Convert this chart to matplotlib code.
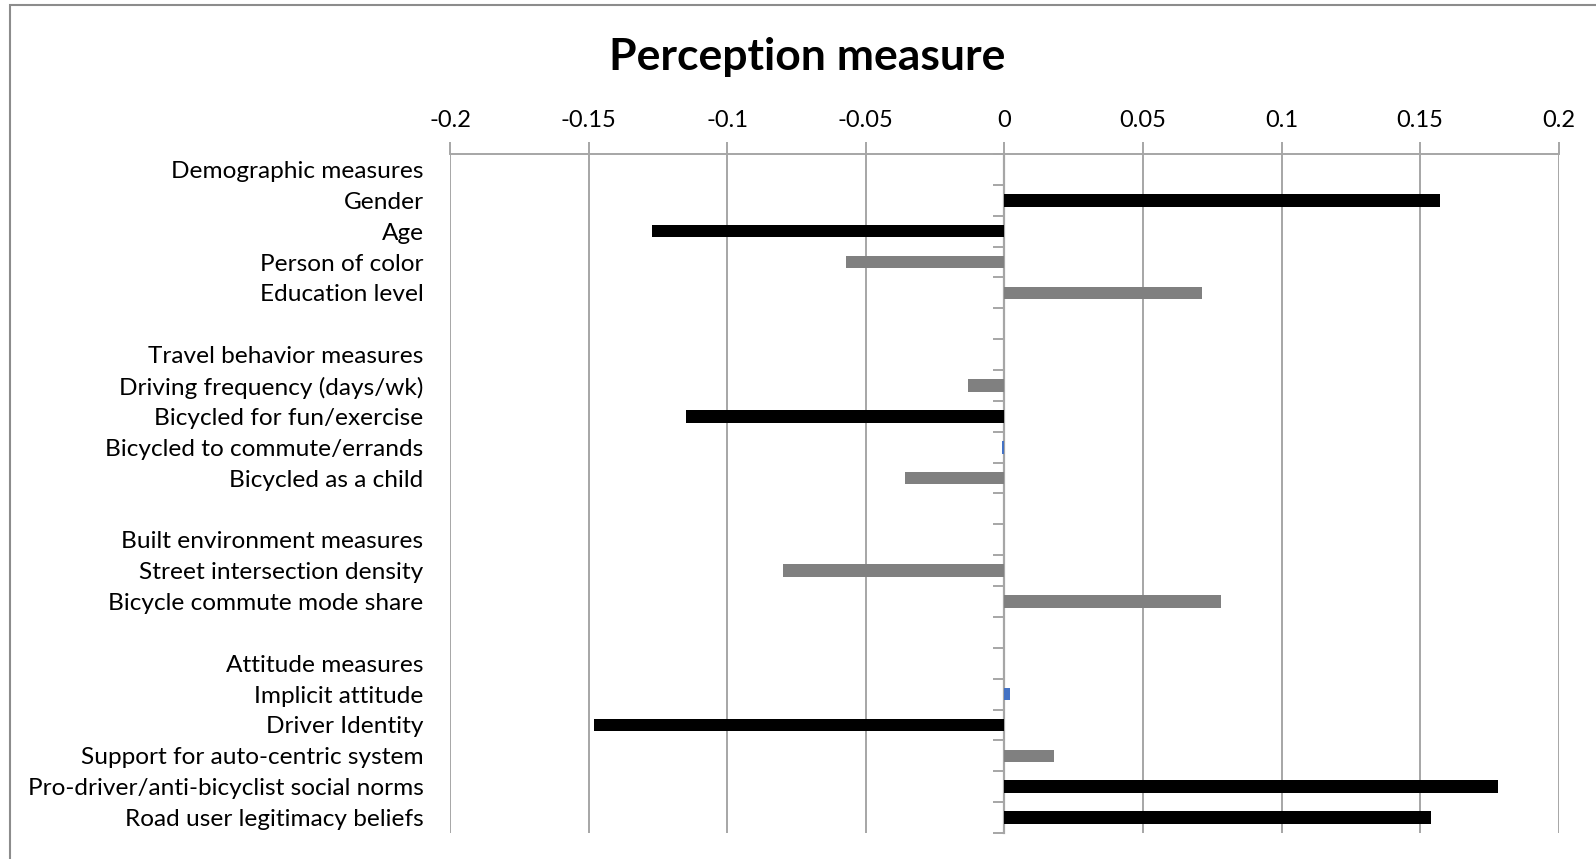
import matplotlib
matplotlib.use("Agg")
import matplotlib.pyplot as plt
from matplotlib.patches import Rectangle

categories = [
    "Demographic measures", "Gender", "Age", "Person of color", "Education level", "",
    "Travel behavior measures", "Driving frequency (days/wk)", "Bicycled for fun/exercise",
    "Bicycled to commute/errands", "Bicycled as a child", "",
    "Built environment measures", "Street intersection density", "Bicycle commute mode share", "",
    "Attitude measures", "Implicit attitude", "Driver Identity", "Support for auto-centric system",
    "Pro-driver/anti-bicyclist social norms", "Road user legitimacy beliefs",
]
values = [
    None, 0.157, -0.127, -0.057, 0.0714, None,
    None, -0.013, -0.115, -0.001, -0.036, None,
    None, -0.080, 0.078, None,
    None, 0.002, -0.148, 0.018, 0.178, 0.154,
]
group = [
    None, "sig", "sig", "ns", "ns", None,
    None, "ns", "sig", "tiny", "ns", None,
    None, "ns", "ns", None,
    None, "tiny", "sig", "ns", "sig", "sig",
]
x_ticks = [-0.2, -0.15, -0.1, -0.05, 0, 0.05, 0.1, 0.15, 0.2]
x_tick_labels = ["-0.2", "-0.15", "-0.1", "-0.05", "0", "0.05", "0.1", "0.15", "0.2"]
title = "Perception measure"

color_map = {"sig": "#000000", "ns": "#808080", "tiny": "#4472C4"}
grid_color = "#A6A6A6"
font = ["Lato", "DejaVu Sans"]
plt.rcParams["font.family"] = font

W, H = 1596, 859
fig = plt.figure(figsize=(W / 100, H / 100), dpi=100)
ax = fig.add_axes([450 / W, 1 - 833 / H, (1558.7 - 450) / W, (833 - 154) / H])

ypos = list(range(len(categories)))
for y, v, g in zip(ypos, values, group):
    if v is None:
        continue
    ax.barh(y, v, height=0.41, color=color_map[g], zorder=3)

ax.set_xlim(-0.2, 0.2)
ax.set_ylim(len(categories) - 0.5, -0.5)
ax.set_xticks(x_ticks)
ax.set_xticklabels(x_tick_labels, fontsize=17)
ax.xaxis.tick_top()
ax.tick_params(axis="x", direction="out", length=9, width=1.4, color=grid_color, pad=7.5)
ax.grid(axis="x", color=grid_color, linewidth=1.4, zorder=0)
ax.set_axisbelow(True)

# y axis line crossing at x = 0 with tick marks at category boundaries
ax.spines["left"].set_position(("data", 0))
ax.spines["left"].set_color(grid_color)
ax.spines["left"].set_linewidth(1.6)
ax.set_yticks([k - 0.5 for k in range(len(categories) + 1)])
ax.set_yticklabels([])
ax.tick_params(axis="y", direction="out", length=8, width=1.4, color=grid_color)

for s in ["right", "bottom"]:
    ax.spines[s].set_visible(False)
ax.spines["top"].set_color(grid_color)
ax.spines["top"].set_linewidth(1.4)

# category labels at the left edge of the plot area
lab = ax.secondary_yaxis("left")
lab.set_yticks(ypos)
lab.set_yticklabels(categories, fontsize=17.6)
lab.tick_params(axis="y", length=0, pad=19)
lab.spines["left"].set_visible(False)

fig.text(807 / W, 1 - 57 / H, title, fontsize=32, fontweight="bold", ha="center", va="center")

fig.patches.append(Rectangle((9.5 / W, -0.1), 1.2, 1 - 5 / H + 0.1, transform=fig.transFigure,
                             fill=False, edgecolor="#8C8C8C", linewidth=1.5))

fig.savefig("out.png", dpi=100)
